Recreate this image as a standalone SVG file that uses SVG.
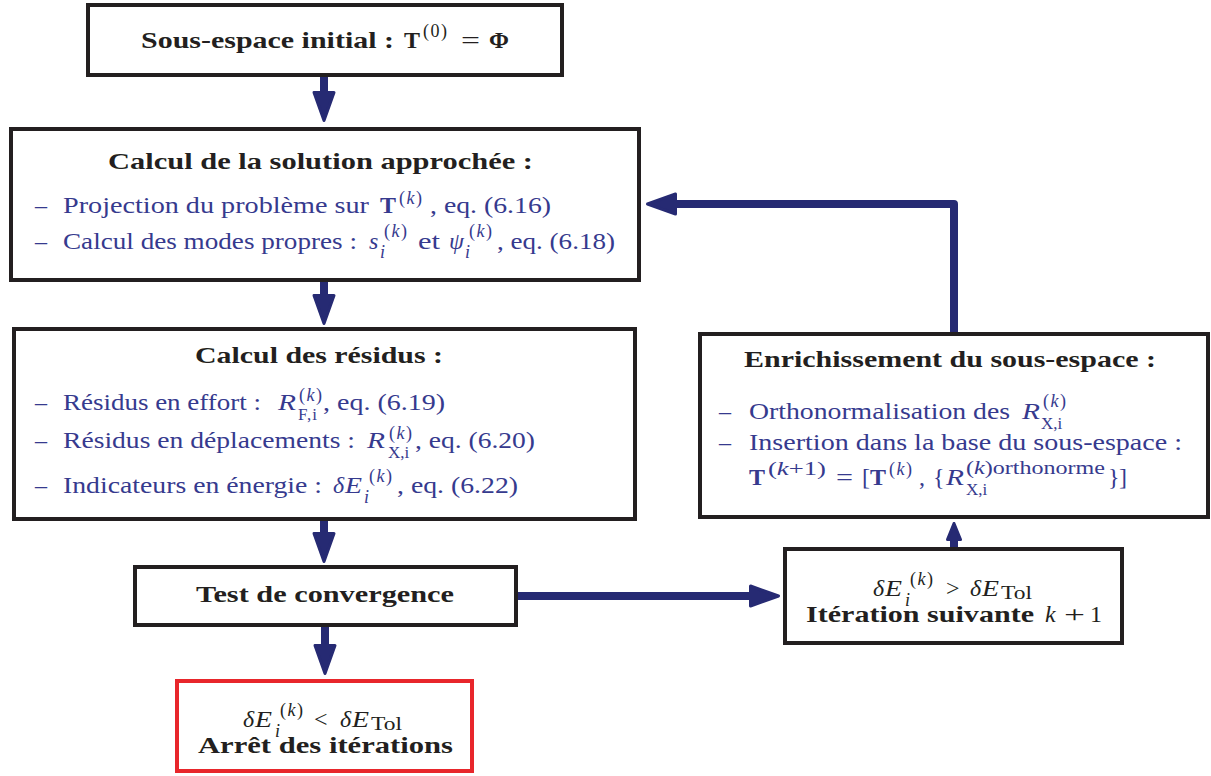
<svg xmlns="http://www.w3.org/2000/svg" width="1211" height="776" viewBox="0 0 1211 776">
<defs>
<style>
text { font-family: "Liberation Serif", "Times New Roman", serif; font-size: 24px; }
.bk { fill: #231f20; font-weight: bold; }
.k { fill: #231f20; }
.bl { fill: #363a8e; }
.it { font-style: italic; }
.bd { font-weight: bold; }
.nb { font-weight: normal; }
.s { font-size: 18px; }
.ss { font-size: 17px; }
.box { fill: #ffffff; stroke: #231f20; stroke-width: 4; }
.red { stroke: #e8262b; }
.conn { fill: none; stroke: #262a73; stroke-width: 8; stroke-linecap: round; stroke-linejoin: round; }
</style>
<marker id="ah" markerUnits="userSpaceOnUse" viewBox="-2 -12 34 24" markerWidth="34" markerHeight="24" refX="0" refY="0" orient="auto">
<path d="M0,-10 L28,0 L0,10 Z" fill="#262a73" stroke="#262a73" stroke-width="3" stroke-linejoin="round"/>
</marker>
<marker id="ahs" markerUnits="userSpaceOnUse" viewBox="-2 -9 20 18" markerWidth="20" markerHeight="18" refX="0" refY="0" orient="auto">
<path d="M0,-6.5 L16,0 L0,6.5 Z" fill="#262a73" stroke="#262a73" stroke-width="3" stroke-linejoin="round"/>
</marker>
</defs>
<rect width="1211" height="776" fill="#ffffff"/>

<g id="connectors" class="conn">
<path d="M324,76 L324,92.5" marker-end="url(#ah)"/>
<path d="M324,282 L324,295.5" marker-end="url(#ah)"/>
<path d="M324,521 L324,533.5" marker-end="url(#ah)"/>
<path d="M325,627 L325,645.5" marker-end="url(#ah)"/>
<path d="M516,596 L750.5,596" marker-end="url(#ah)"/>
<path d="M954,549 L954,539.5" marker-end="url(#ahs)"/>
<path d="M954,334 L954,204 L675.5,204" marker-end="url(#ah)"/>
</g>

<g id="n-init">
<rect class="box" x="88" y="5" width="474" height="70"/>
<text class="bk" y="48"><tspan x="141" textLength="253" lengthAdjust="spacingAndGlyphs">Sous-espace initial :</tspan> <tspan x="404">T</tspan><tspan class="s nb" x="423" y="37" letter-spacing="1.5">(0)</tspan> <tspan class="nb" x="461" y="48" textLength="19" lengthAdjust="spacingAndGlyphs">=</tspan> <tspan x="489">Φ</tspan></text>
</g>

<g id="n-solution">
<rect class="box" x="11" y="129" width="628" height="151"/>
<text class="bk" x="108" y="169" textLength="425" lengthAdjust="spacingAndGlyphs">Calcul de la solution approchée :</text>
<text class="bl" y="213"><tspan x="35">–</tspan> <tspan x="63" textLength="306" lengthAdjust="spacingAndGlyphs">Projection du problème sur</tspan> <tspan class="bd" x="380">T</tspan><tspan class="s" x="399" y="204" letter-spacing="1.5">(<tspan class="it">k</tspan>)</tspan><tspan x="430" y="213" textLength="121" lengthAdjust="spacingAndGlyphs">, eq. (6.16)</tspan></text>
<text class="bl" y="249"><tspan x="35">–</tspan> <tspan x="63" textLength="294" lengthAdjust="spacingAndGlyphs">Calcul des modes propres :</tspan> <tspan class="it" x="369">s</tspan><tspan class="s it" x="380" y="258">i</tspan><tspan class="s" x="384" y="237" letter-spacing="1.5">(<tspan class="it">k</tspan>)</tspan> <tspan x="418" y="249" textLength="22" lengthAdjust="spacingAndGlyphs">et</tspan> <tspan class="it" x="449">ψ</tspan><tspan class="s it" x="465" y="258">i</tspan><tspan class="s" x="469" y="237" letter-spacing="1.5">(<tspan class="it">k</tspan>)</tspan><tspan x="497" y="249" textLength="118" lengthAdjust="spacingAndGlyphs">, eq. (6.18)</tspan></text>
</g>

<g id="n-residus">
<rect class="box" x="14" y="329" width="621" height="190"/>
<text class="bk" x="195" y="363" textLength="248" lengthAdjust="spacingAndGlyphs">Calcul des résidus :</text>
<text class="bl" y="410"><tspan x="35">–</tspan> <tspan x="63" textLength="198" lengthAdjust="spacingAndGlyphs">Résidus en effort :</tspan> <tspan class="it" x="278" textLength="18" lengthAdjust="spacingAndGlyphs">R</tspan><tspan class="s" x="299" y="401" letter-spacing="1.5">(<tspan class="it">k</tspan>)</tspan><tspan class="ss" x="298" y="420" letter-spacing="1">F,i</tspan><tspan x="323" y="410" textLength="122" lengthAdjust="spacingAndGlyphs">, eq. (6.19)</tspan></text>
<text class="bl" y="448"><tspan x="35">–</tspan> <tspan x="63" textLength="292" lengthAdjust="spacingAndGlyphs">Résidus en déplacements :</tspan> <tspan class="it" x="367" textLength="18" lengthAdjust="spacingAndGlyphs">R</tspan><tspan class="s" x="389" y="439" letter-spacing="1.5">(<tspan class="it">k</tspan>)</tspan><tspan class="ss" x="388" y="458">X,i</tspan><tspan x="415" y="448" textLength="120" lengthAdjust="spacingAndGlyphs">, eq. (6.20)</tspan></text>
<text class="bl" y="493"><tspan x="35">–</tspan> <tspan x="63" textLength="259" lengthAdjust="spacingAndGlyphs">Indicateurs en énergie :</tspan> <tspan class="it" x="333">δ</tspan><tspan class="it" x="345" textLength="17" lengthAdjust="spacingAndGlyphs">E</tspan><tspan class="s it" x="364" y="503">i</tspan><tspan class="s" x="369" y="482" letter-spacing="1.5">(<tspan class="it">k</tspan>)</tspan><tspan x="397" y="493" textLength="121" lengthAdjust="spacingAndGlyphs">, eq. (6.22)</tspan></text>
</g>

<g id="n-test">
<rect class="box" x="135" y="567" width="381" height="58"/>
<text class="bk" x="196" y="602" textLength="258" lengthAdjust="spacingAndGlyphs">Test de convergence</text>
</g>

<g id="n-arret">
<rect class="box red" x="177" y="681" width="295" height="90"/>
<text class="k" y="727"><tspan class="it" x="243">δ</tspan><tspan class="it" x="255" textLength="17" lengthAdjust="spacingAndGlyphs">E</tspan><tspan class="s it" x="275" y="737">i</tspan><tspan class="s" x="280" y="716" letter-spacing="1.5">(<tspan class="it">k</tspan>)</tspan> <tspan x="314" y="727">&lt;</tspan> <tspan class="it" x="340">δ</tspan><tspan class="it" x="352" textLength="17" lengthAdjust="spacingAndGlyphs">E</tspan><tspan class="s" x="371" y="730" textLength="31" lengthAdjust="spacingAndGlyphs">Tol</tspan></text>
<text class="bk" x="198" y="753" textLength="255" lengthAdjust="spacingAndGlyphs">Arrêt des itérations</text>
</g>

<g id="n-suivante">
<rect class="box" x="785" y="549" width="337" height="94"/>
<text class="k" y="596"><tspan class="it" x="873">δ</tspan><tspan class="it" x="885" textLength="17" lengthAdjust="spacingAndGlyphs">E</tspan><tspan class="s it" x="905" y="606">i</tspan><tspan class="s" x="910" y="585" letter-spacing="1.5">(<tspan class="it">k</tspan>)</tspan> <tspan x="946" y="596">&gt;</tspan> <tspan class="it" x="970">δ</tspan><tspan class="it" x="982" textLength="17" lengthAdjust="spacingAndGlyphs">E</tspan><tspan class="s" x="1001" y="599" textLength="31" lengthAdjust="spacingAndGlyphs">Tol</tspan></text>
<text class="k" y="622"><tspan class="bd" x="806" textLength="228" lengthAdjust="spacingAndGlyphs">Itération suivante</tspan> <tspan class="it" x="1045">k</tspan> <tspan x="1064" textLength="21" lengthAdjust="spacingAndGlyphs">+</tspan> <tspan x="1090">1</tspan></text>
</g>

<g id="n-enrichissement">
<rect class="box" x="700" y="334" width="508" height="183"/>
<text class="bk" x="744" y="367" textLength="412" lengthAdjust="spacingAndGlyphs">Enrichissement du sous-espace :</text>
<text class="bl" y="419"><tspan x="719">–</tspan> <tspan x="749" textLength="261" lengthAdjust="spacingAndGlyphs">Orthonormalisation des</tspan> <tspan class="it" x="1022" textLength="18" lengthAdjust="spacingAndGlyphs">R</tspan><tspan class="s" x="1043" y="407" letter-spacing="1.5">(<tspan class="it">k</tspan>)</tspan><tspan class="ss" x="1041" y="429">X,i</tspan></text>
<text class="bl" y="450"><tspan x="719">–</tspan> <tspan x="749" textLength="433" lengthAdjust="spacingAndGlyphs">Insertion dans la base du sous-espace :</tspan></text>
<text class="bl" y="485"><tspan class="bd" x="749">T</tspan><tspan class="s" x="768" y="475" textLength="58" lengthAdjust="spacingAndGlyphs">(<tspan class="it">k</tspan>+1)</tspan> <tspan x="836" y="485" textLength="17" lengthAdjust="spacingAndGlyphs">=</tspan> <tspan x="862">[</tspan><tspan class="bd" x="870">T</tspan><tspan class="s" x="889" y="475" letter-spacing="1.5">(<tspan class="it">k</tspan>)</tspan><tspan x="919" y="485">,</tspan> <tspan x="933">{</tspan><tspan class="it" x="946" textLength="18" lengthAdjust="spacingAndGlyphs">R</tspan><tspan class="s" x="966" y="474" textLength="139" lengthAdjust="spacingAndGlyphs">(<tspan class="it">k</tspan>)orthonorme</tspan><tspan class="ss" x="966" y="495">X,i</tspan><tspan x="1108" y="485">}</tspan><tspan x="1119">]</tspan></text>
</g>
</svg>
